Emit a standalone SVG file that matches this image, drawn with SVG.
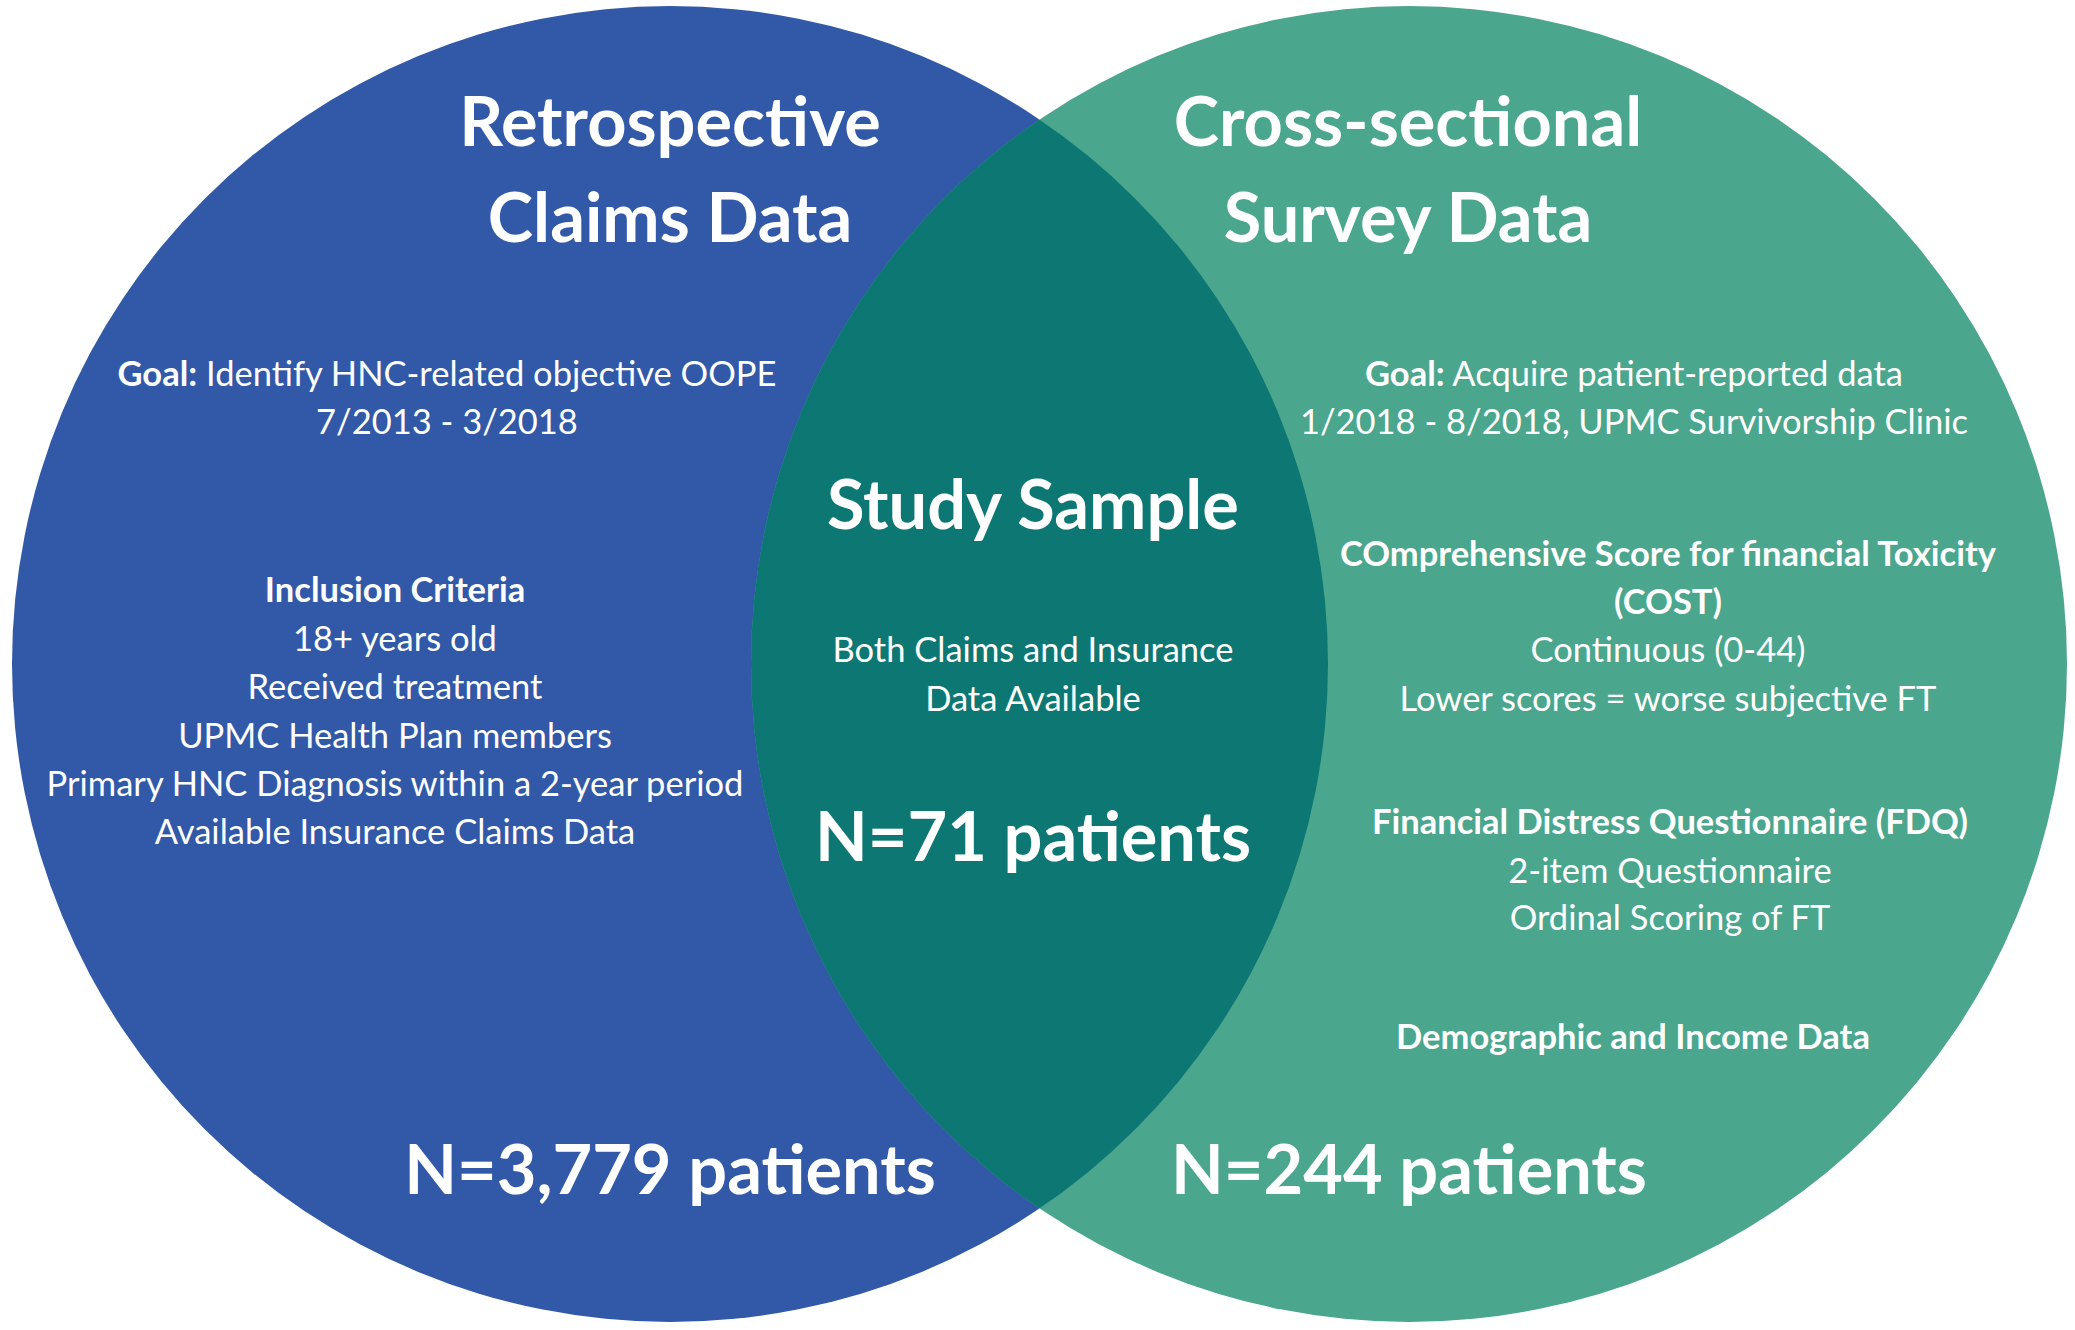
<svg xmlns="http://www.w3.org/2000/svg" width="2075" height="1330" viewBox="0 0 2075 1330">
<style>
text{font-family:Lato,"Open Sans","Liberation Sans",sans-serif;fill:#ffffff;text-anchor:middle}
.title{font-size:68.5px;font-weight:700}
.big{font-size:68.5px;font-weight:700}
.body{font-size:34.5px;font-weight:400}
.b{font-weight:700}
</style>
<defs>
<clipPath id="clipL"><circle cx="670" cy="664" r="658"/></clipPath>
</defs>
<rect width="2075" height="1330" fill="#ffffff"/>
<g id="claims">
<circle cx="670" cy="664" r="658" fill="#3159A8"/>
</g>
<g id="survey">
<circle cx="1409" cy="664" r="658" fill="#4BA68E"/>
</g>
<g id="overlap">
<circle cx="1409" cy="664" r="658" fill="#0D7873" clip-path="url(#clipL)"/>
</g>
<g id="claims-text">
<text class="title" x="670" y="146">Retrospective</text>
<text class="title" x="670" y="242">Claims Data</text>
<text class="body" x="447" y="386"><tspan class="b">Goal:</tspan> Identify HNC-related objective OOPE</text>
<text class="body" x="447" y="434">7/2013 - 3/2018</text>
<text class="body b" x="395" y="602">Inclusion Criteria</text>
<text class="body" x="395" y="651">18+ years old</text>
<text class="body" x="395" y="699">Received treatment</text>
<text class="body" x="395" y="748">UPMC Health Plan members</text>
<text class="body" x="395" y="796">Primary HNC Diagnosis within a 2-year period</text>
<text class="body" x="395" y="844">Available Insurance Claims Data</text>
<text class="big" x="670" y="1194">N=3,779 patients</text>
</g>
<g id="survey-text">
<text class="title" x="1408" y="146">Cross-sectional</text>
<text class="title" x="1408" y="242">Survey Data</text>
<text class="body" x="1634" y="386"><tspan class="b">Goal:</tspan> Acquire patient-reported data</text>
<text class="body" x="1634" y="434">1/2018 - 8/2018, UPMC Survivorship Clinic</text>
<text class="body b" x="1668" y="566">COmprehensive Score for financial Toxicity</text>
<text class="body b" x="1668" y="614">(COST)</text>
<text class="body" x="1668" y="662">Continuous (0-44)</text>
<text class="body" x="1668" y="711">Lower scores = worse subjective FT</text>
<text class="body b" x="1670" y="834">Financial Distress Questionnaire (FDQ)</text>
<text class="body" x="1670" y="883">2-item Questionnaire</text>
<text class="body" x="1670" y="930">Ordinal Scoring of FT</text>
<text class="body b" x="1633" y="1049">Demographic and Income Data</text>
<text class="big" x="1409" y="1194">N=244 patients</text>
</g>
<g id="sample-text">
<text class="title" x="1033" y="529">Study Sample</text>
<text class="body" x="1033" y="662">Both Claims and Insurance</text>
<text class="body" x="1033" y="711">Data Available</text>
<text class="big" x="1033" y="861">N=71 patients</text>
</g>
</svg>
